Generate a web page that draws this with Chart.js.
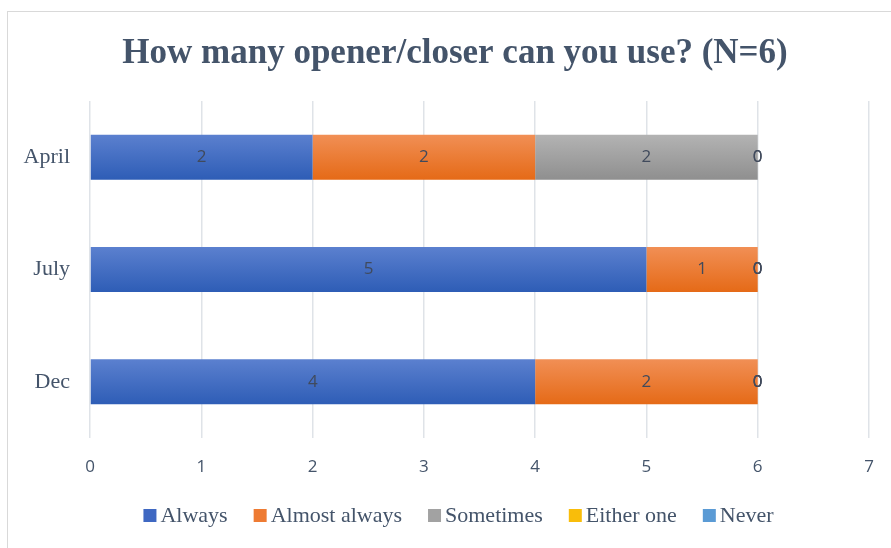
<!DOCTYPE html>
<html>
<head>
<meta charset="utf-8">
<script src="https://cdn.jsdelivr.net/npm/chart.js@4"></script>
<style>
  html, body { margin: 0; padding: 0; background: #ffffff; }
  #wrap { width: 891px; height: 548px; }
</style>
</head>
<body>
<div id="wrap"><canvas id="myChart" width="891" height="548"></canvas></div>
<script>
const categories = ['April', 'July', 'Dec']
const always = [2, 5, 4]
const almostAlways = [2, 1, 2]
const sometimes = [2, 0, 0]
const eitherOne = [0, 0, 0]
const never = [0, 0, 0]
const xTicks = [0, 1, 2, 3, 4, 5, 6, 7]
const titleText = 'How many opener/closer can you use? (N=6)'

const ctx = document.querySelector('#myChart').getContext('2d')

// gradient per bar, top light -> bottom dark (like the office look)
function barGradient(top, bottom) {
    return function(context) {
        const chart = context.chart
        const yScale = chart.scales.y
        if (!chart.chartArea || !yScale || context.dataIndex === undefined) return bottom
        const y = yScale.getPixelForValue(context.dataIndex)
        const half = 22.5
        const g = chart.ctx.createLinearGradient(0, y - half, 0, y + half)
        g.addColorStop(0, top)
        g.addColorStop(1, bottom)
        return g
    }
}

const textColor = '#44546a'
const serif = '"Liberation Serif", "Times New Roman", serif'
const sans = '"Open Sans", "DejaVu Sans", sans-serif'

const frame = {
    id: 'frame',
    beforeDraw: (chart) => {
        const {ctx} = chart
        ctx.save()
        ctx.fillStyle = '#ffffff'
        ctx.fillRect(0, 0, chart.width, chart.height)
        ctx.strokeStyle = '#d9d9d9'
        ctx.lineWidth = 1
        ctx.strokeRect(7.5, 11.5, chart.width + 10, chart.height + 10)
        // title, centred on the whole frame
        ctx.font = 'bold 35px ' + serif
        ctx.fillStyle = textColor
        ctx.textAlign = 'center'
        ctx.textBaseline = 'alphabetic'
        ctx.fillText(titleText, 455, 63)
        ctx.restore()
    }
}

const barLabels = {
    id: 'barLabels',
    afterDatasetsDraw: (chart) => {
        const {ctx} = chart
        ctx.save()
        ctx.font = '17px ' + sans
        ctx.fillStyle = '#404a5c'
        ctx.textAlign = 'center'
        ctx.textBaseline = 'middle'
        chart.data.datasets.forEach((ds, i) => {
            const meta = chart.getDatasetMeta(i)
            meta.data.forEach((bar, j) => {
                const p = bar.getCenterPoint()
                ctx.fillText(String(ds.data[j]), p.x, p.y)
            })
        })
        ctx.restore()
    }
}

const legendColors = ['#3f68c2', '#ee7b33', '#a2a2a2', '#f9bd0a', '#5b9bd5']

// legend drawn by hand: small box, tight gap, wide spacing between items
const bottomLegend = {
    id: 'bottomLegend',
    afterDraw: (chart) => {
        const {ctx} = chart
        const box = 13, gap = 4, itemGap = 26
        ctx.save()
        ctx.font = '22px ' + serif
        const items = chart.data.datasets.map((ds, i) => ({
            text: ds.label, color: legendColors[i], w: ctx.measureText(ds.label).width
        }))
        const total = items.reduce((s, it) => s + box + gap + it.w, 0) + itemGap * (items.length - 1)
        let x = (chart.width - total) / 2 + 13
        const cy = chart.height - 32.5
        ctx.textBaseline = 'middle'
        ctx.textAlign = 'left'
        items.forEach(it => {
            ctx.fillStyle = it.color
            ctx.fillRect(x, cy - box / 2, box, box)
            ctx.fillStyle = textColor
            ctx.fillText(it.text, x + box + gap, cy + 1)
            x += box + gap + it.w + itemGap
        })
        ctx.restore()
    }
}

const data = {
    labels: categories,
    datasets: [
        { label: 'Always', data: always, backgroundColor: barGradient('#5b80cf', '#2e5db6') },
        { label: 'Almost always', data: almostAlways, backgroundColor: barGradient('#f18f55', '#e56a17') },
        { label: 'Sometimes', data: sometimes, backgroundColor: barGradient('#b3b3b3', '#8f8f8f') },
        { label: 'Either one', data: eitherOne, backgroundColor: barGradient('#ffc824', '#eeb000') },
        { label: 'Never', data: never, backgroundColor: barGradient('#6aa3db', '#4a8bcc') },
    ]
}
data.datasets.forEach(ds => {
    ds.barPercentage = 0.4
    ds.categoryPercentage = 1
    ds.borderWidth = 0
})

const config = {
    type: 'bar',
    data: data,
    plugins: [frame, barLabels, bottomLegend],
    options: {
        indexAxis: 'y',
        responsive: false,
        animation: false,
        layout: { padding: { left: 0, right: 22, top: 101, bottom: 54 } },
        scales: {
            x: {
                stacked: true,
                min: 0,
                max: 7,
                afterBuildTicks: (scale) => { scale.ticks = xTicks.map(v => ({ value: v })) },
                afterFit: (scale) => {
                    scale.height = 56
                    scale.paddingLeft = 0
                    scale.paddingRight = 0
                },
                border: { display: false },
                grid: { color: '#dfe3e8', drawTicks: false, lineWidth: 1.5 },
                ticks: {
                    padding: 19,
                    color: textColor,
                    font: { family: sans, size: 17 }
                }
            },
            y: {
                stacked: true,
                afterFit: (scale) => { scale.width = 90 },
                border: { display: false },
                grid: { display: false },
                ticks: {
                    padding: 12,
                    color: textColor,
                    font: { family: serif, size: 22 }
                }
            }
        },
        plugins: {
            title: { display: false },
            legend: { display: false },
            tooltip: { enabled: false }
        }
    }
}

const myChart = new Chart(ctx, config)
</script>
</body>
</html>
